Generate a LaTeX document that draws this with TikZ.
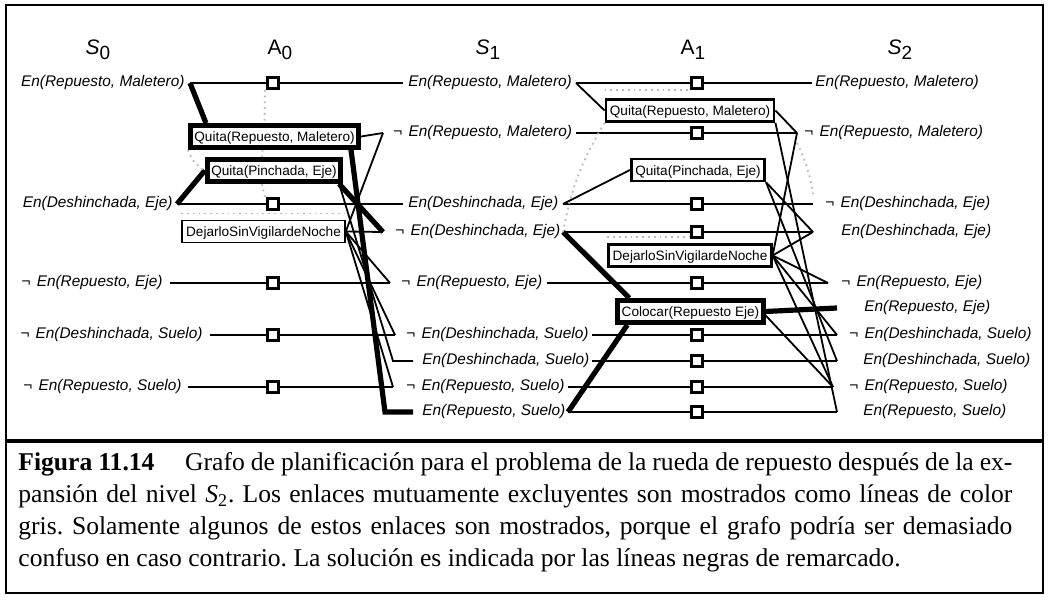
\documentclass[tikz,border=0pt]{standalone}
\usepackage{fontspec}
\setmainfont{Liberation Serif}
\setsansfont{Liberation Sans}
\usetikzlibrary{positioning,calc,backgrounds}

\newcommand{\neglit}{{\upshape ¬}\hspace{0.4em}}
\newcommand{\nivel}[2]{#1\raisebox{-0.45ex}{\fontsize{9.5}{10}\selectfont\upshape #2}}

\tikzset{
  lit/.style={font=\sffamily\itshape\fontsize{7.7}{9}\selectfont,inner sep=0pt},
  cabecera/.style={font=\sffamily\fontsize{10.5}{12}\selectfont,inner sep=0pt},
  accion/.style={draw,line width=1.3pt,fill=white,inner xsep=2pt,inner ysep=0.8pt,
                 text height=0.73em,text depth=0.21em,
                 font=\sffamily\fontsize{6.8}{8}\selectfont},
  finabox/.style={accion,line width=0.9pt},
  solbox/.style={accion,line width=2.4pt},
  pbox/.style={draw,line width=1.3pt,fill=white,minimum size=5.5pt,inner sep=0pt},
  enlace/.style={line width=0.9pt},
  solucion/.style={line width=2.6pt},
  mutex/.style={gray!55,dotted,line width=0.9pt},
}

\begin{document}
\begin{tikzpicture}[x=0.5pt,y=-0.5pt]
  \useasboundingbox (0,0) rectangle (1050,603);

  % marco y barra
  \draw[line width=0.8pt] (6,5) rectangle (1043,593);
  \draw[line width=2.4pt] (6,441) -- (1043,441);

  % ════════ cabeceras ════════
  \node[cabecera] (hS0) at (98,50)  {\nivel{\itshape S}{0}};
  \node[cabecera] (hA0) at (280,50) {\nivel{A}{0}};
  \node[cabecera] (hS1) at (488,50) {\nivel{\itshape S}{1}};
  \node[cabecera] (hA1) at (693,50) {\nivel{A}{1}};
  \node[cabecera] (hS2) at (900,50) {\nivel{\itshape S}{2}};

  % ════════ S0 ════════
  \foreach \n/\x/\xo/\y/\t in {s0rm/185/190/83/{En(Repuesto, Maletero)},
      s0de/173/177/204/{En(Deshinchada, Eje)},
      s0nre/163/170/283/{\neglit En(Repuesto, Eje)},
      s0nds/203/210/335/{\neglit En(Deshinchada, Suelo)},
      s0nrs/182/188/387/{\neglit En(Repuesto, Suelo)}}{
    \node[lit,anchor=east] (\n) at (\x,\y) {\t};
    \coordinate (\n-out) at (\xo,\y);
  }

  % ════════ A0 ════════
  \foreach \n/\y in {rm/83, de/204, nre/283, nds/335, nrs/387}
    \node[pbox] (p0\n) at (273,\y) {};
  \node[solbox]  (a0qrm) at (274.5,136.5) {Quita(Repuesto, Maletero)};
  \node[solbox]  (a0qpe) at (274,170.5)   {Quita(Pinchada, Eje)};
  \node[finabox] (a0dsv) at (263.5,231.5) {DejarloSinVigilardeNoche};

  % ════════ S1 ════════
  \foreach \n/\x/\xi/\xo/\y/\t in {s1rm/408/403/576/83/{En(Repuesto, Maletero)},
      s1nrm/393/383/576/133/{\neglit En(Repuesto, Maletero)},
      s1de/408/403/563/204/{En(Deshinchada, Eje)},
      s1nde/395/383/563/232/{\neglit En(Deshinchada, Eje)},
      s1nre/401/390/547/283/{\neglit En(Repuesto, Eje)},
      s1nds/406/395/592/335/{\neglit En(Deshinchada, Suelo)},
      s1ds/422/393/592/361/{En(Deshinchada, Suelo)},
      s1nrs/406/393/568/387/{\neglit En(Repuesto, Suelo)},
      s1rs/422/385/568/412/{En(Repuesto, Suelo)}}{
    \node[lit,anchor=west] (\n) at (\x,\y) {\t};
    \coordinate (\n-in) at (\xi,\y);
    \coordinate (\n-out) at (\xo,\y);
  }
  \coordinate (s1ds-txt) at (413,361);
  \coordinate (s1rs-txt) at (413,412);

  % ════════ A1 ════════
  \foreach \n/\y in {rm/83, nrm/133, de/204, nde/232, nre/283, nds/335, ds/361, nrs/387, rs/412}
    \node[pbox] (p1\n) at (697,\y) {};
  \node[accion] (a1qrm) at (690,110.5) {Quita(Repuesto, Maletero)};
  \node[accion] (a1qpe) at (698,170)   {Quita(Pinchada, Eje)};
  \node[accion] (a1dsv) at (690,255.5) {DejarloSinVigilardeNoche};
  \node[solbox] (a1col) at (690.5,311.5) {Colocar(Repuesto Eje)};

  % ════════ S2 ════════
  \foreach \n/\x/\xi/\y/\t in {s2rm/815/812/83/{En(Repuesto, Maletero)},
      s2nrm/804/797/133/{\neglit En(Repuesto, Maletero)},
      s2nde/825/813/204/{\neglit En(Deshinchada, Eje)},
      s2de/841/813/232/{En(Deshinchada, Eje)},
      s2nre/841/828/283/{\neglit En(Repuesto, Eje)},
      s2re/864/837/308/{En(Repuesto, Eje)},
      s2nds/849/837/335/{\neglit En(Deshinchada, Suelo)},
      s2ds/863/837/361/{En(Deshinchada, Suelo)},
      s2nrs/849/833/387/{\neglit En(Repuesto, Suelo)},
      s2rs/863/837/412/{En(Repuesto, Suelo)}}{
    \node[lit,anchor=west] (\n) at (\x,\y) {\t};
    \coordinate (\n-in) at (\xi,\y);
  }

  % ════════ enlaces ════════
  \begin{scope}[on background layer]
    % persistencia
    \foreach \n in {rm,de,nre,nds,nrs}
      \draw[enlace] (s0\n-out) -- (p0\n) -- (s1\n-in);
    \foreach \n in {rm,nrm,nre,nds,ds,nrs,rs}
      \draw[enlace] (s1\n-out) -- (p1\n) -- (s2\n-in);
    \draw[enlace] (s1de-out) -- (p1de) -- (s2nde-in);
    \draw[enlace] (s1nde-out) -- (p1nde) -- (s2de-in);

    % acciones de A0
    \draw[solucion] (s0rm-out) -- ([xshift=9pt]a0qrm.north west);
    \draw[solucion] (s0de-out) -- (a0qpe.west);
    \draw[enlace] (a0qrm.east) -- (s1nrm-in);
    \draw[solucion] ([xshift=-5pt]a0qrm.south east) -- (s1rs-in) -- (s1rs-txt);
    \draw[solucion] ([xshift=-2pt]a0qpe.south east) -- (s1nde-in);
    \draw[enlace] ([xshift=-2pt]a0qpe.south east) -- (s1ds-in) -- (s1ds-txt);
    \foreach \t in {nrm,nde,nre,nds,nrs}
      \draw[enlace] (a0dsv.east) -- (s1\t-in);

    % acciones de A1
    \draw[enlace] (s1rm-out) -- (a1qrm.west);
    \draw[enlace] (s1de-out) -- (a1qpe.west);
    \draw[solucion] (s1nde-out) -- ([xshift=7pt]a1col.north west);
    \draw[solucion] (s1rs-out) -- ([xshift=6pt]a1col.south west);
    \draw[enlace] (a1qrm.east) -- (s2nrm-in);
    \draw[enlace] (a1qrm.south east) -- (s2rs-in);
    \draw[enlace] (a1qpe.south east) -- (s2de-in);
    \draw[enlace] (a1qpe.south east) -- (s2ds-in);
    \foreach \t in {nrm,de,nre,nds,nrs}
      \draw[enlace] (a1dsv.east) -- (s2\t-in);
    \draw[solucion] (a1col.east) -- (s2re-in);
    \draw[enlace] ([yshift=-2pt]a1col.east) -- (s2nrs-in);

    % mutex (gris)
    \draw[mutex] ([xshift=-4pt]p0rm.south) -- ([xshift=-5pt]a0qrm.north);
    \draw[mutex] ([xshift=-6pt]a0qrm.south) -- ([xshift=-6pt]a0qpe.north);
    \draw[mutex] ([xshift=-6pt]a0qpe.south) -- ([xshift=-4pt]p0de.north);
    \draw[mutex] (a0qrm.south west) to[bend right=20] (a0qpe.west);
    \draw[mutex] ([yshift=3pt]a0dsv.north west) -- ([yshift=3pt]a0dsv.north east);
    \draw[mutex] ([yshift=4pt]a1qrm.north west) -- ([yshift=4pt]a1qrm.north);
    \draw[mutex] (a1qrm.south west) to[bend right=10] (s1nde-out);
    \draw[mutex] ([yshift=3pt]a1dsv.north west) -- ([yshift=3pt]a1dsv.north);
    \draw[mutex] ([yshift=-5pt]s2nrm-in) to[bend left=8] ([yshift=5pt]s2nde-in);
  \end{scope}

  % ════════ pie de figura ════════
  \node[anchor=north west,inner sep=0pt,text width=497pt,align=justify,
        font=\fontsize{12.8}{16}\selectfont\frenchspacing] (leyenda) at (18,452)
    {\textbf{Figura 11.14}\hspace{1.2em}Grafo de planificación para el problema de la rueda de repuesto después de la ex-\linebreak
     pansión del nivel \textit{S}\textsubscript{2}. Los enlaces mutuamente excluyentes son mostrados como líneas de color\linebreak
     gris. Solamente algunos de estos enlaces son mostrados, porque el grafo podría ser demasiado\linebreak
     confuso en caso contrario. La solución es indicada por las líneas negras de remarcado.};

\end{tikzpicture}
\end{document}
